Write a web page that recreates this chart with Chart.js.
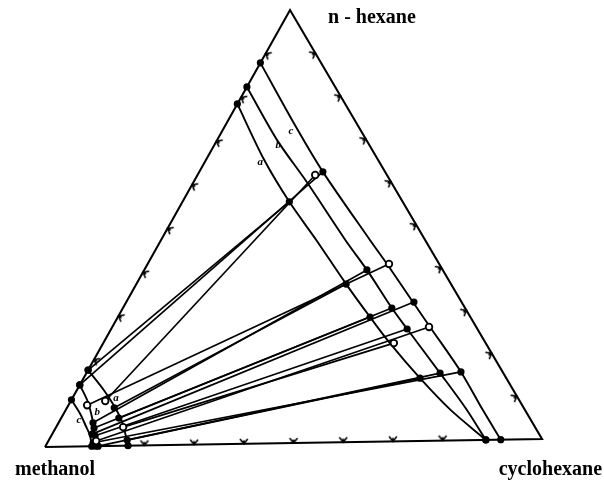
<!DOCTYPE html>
<html>
<head>
<meta charset="utf-8">
<script src="https://cdn.jsdelivr.net/npm/chart.js@4.4.1/dist/chart.umd.min.js"></script>
<style>
  html, body { margin: 0; padding: 0; background: #fff; }
  #wrap { width: 604px; height: 483px; position: relative; }
</style>
</head>
<body>
<div id="wrap"><canvas id="chart"></canvas></div>
<script>
// mole fractions: cyclohexane / n-hexane, methanol = the rest
// hydrocarbon-rich branch of the binodal, curves a, b, c
const aRightCyc = [0, 0.118, 0.217, 0.315, 0.426, 0.512, 0.582, 0.683, 0.782, 0.887];
const aRightHex = [0.785, 0.655, 0.557, 0.468, 0.365, 0.288, 0.227, 0.145, 0.070, 0];
const bRightCyc = [0, 0.122, 0.230, 0.374, 0.452, 0.546, 0.601, 0.718, 0.810, 0.887];
const bRightHex = [0.824, 0.700, 0.602, 0.467, 0.397, 0.308, 0.259, 0.156, 0.074, 0];
const cRightCyc = [0, 0.145, 0.251, 0.424, 0.486, 0.582, 0.645, 0.759, 0.847, 0.917];
const cRightHex = [0.879, 0.730, 0.625, 0.466, 0.410, 0.321, 0.263, 0.158, 0.069, 0];

// methanol-rich branch, curves a, b, c
const aLeftCyc = [0, 0.055, 0.092, 0.124, 0.145, 0.167];
const aLeftHex = [0.176, 0.129, 0.094, 0.060, 0.032, 0];
const bLeftCyc = [0, 0.032, 0.056, 0.078, 0.102];
const bLeftHex = [0.142, 0.107, 0.075, 0.042, 0];
const cLeftCyc = [0, 0.034, 0.059, 0.079, 0.094];
const cLeftHex = [0.108, 0.075, 0.047, 0.024, 0];

// tie lines: methanol-rich end / hydrocarbon-rich end, open = hollow markers
const tieLeftCyc  = [0, 0, 0.070, 0.096, 0.070, 0.038, 0.117, 0.078, 0.081, 0.136, 0.089, 0.097, 0.159, 0.107, 0.093];
const tieLeftHex  = [0.176, 0.142, 0.104, 0.088, 0.054, 0.095, 0.064, 0.042, 0.028, 0.043, 0.024, 0.012, 0.013, 0, 0.008];
const tieRightCyc = [0.217, 0.251, 0.239, 0.426, 0.452, 0.490, 0.512, 0.546, 0.584, 0.590, 0.601, 0.643, 0.683, 0.718, 0.759];
const tieRightHex = [0.557, 0.625, 0.618, 0.365, 0.397, 0.410, 0.288, 0.308, 0.321, 0.227, 0.259, 0.263, 0.145, 0.156, 0.158];
const tieOpen     = [false, false, true, false, false, true, false, false, false, true, false, true, false, false, false];

// edge ticks, every 0.1
const rightTicks = [0.1, 0.2, 0.3, 0.4, 0.5, 0.6, 0.7, 0.8, 0.9];
const baseTicks = [0.2, 0.3, 0.4, 0.5, 0.6, 0.7, 0.8];
const leftTicks = [0.2, 0.3, 0.4, 0.5, 0.6, 0.7, 0.8, 0.9];

// corners of the (slightly tilted, scanned) triangle, methanol at origin
const C_VTX = [1, 0.0161];
const H_VTX = [0.493, 0.8793];

function toXY(c, h) {
  return { x: c * C_VTX[0] + h * H_VTX[0], y: c * C_VTX[1] + h * H_VTX[1] };
}
function pts(cyc, hex) {
  return cyc.map((c, i) => toXY(c, hex[i]));
}

function makeTick() {
  const cv = document.createElement('canvas');
  cv.width = 14; cv.height = 14;
  const g = cv.getContext('2d');
  g.strokeStyle = '#000';
  g.lineWidth = 1.6;
  g.lineCap = 'round';
  g.beginPath();
  g.moveTo(3.5, 2.5); g.lineTo(7, 7); g.lineTo(10.5, 2.5);
  g.moveTo(7, 7); g.lineTo(7, 4);
  g.stroke();
  return cv;
}
const tickImg = makeTick();

const datasets = [];

// markers
const filled = [], hollow = [];
tieLeftCyc.forEach((c, i) => {
  const l = toXY(c, tieLeftHex[i]);
  const r = toXY(tieRightCyc[i], tieRightHex[i]);
  (tieOpen[i] ? hollow : filled).push(l, r);
});
// both ends of every binodal curve
[[aRightCyc, aRightHex], [bRightCyc, bRightHex], [cRightCyc, cRightHex],
 [aLeftCyc, aLeftHex], [bLeftCyc, bLeftHex], [cLeftCyc, cLeftHex]].forEach(cv => {
  const n = cv[0].length - 1;
  filled.push(toXY(cv[0][0], cv[1][0]), toXY(cv[0][n], cv[1][n]));
});

datasets.push({ data: hollow, pointRadius: 3.3, pointBackgroundColor: '#fff', pointBorderColor: '#000', pointBorderWidth: 1.8, showLine: false, order: 0 });
datasets.push({ data: filled, pointRadius: 3.6, pointBackgroundColor: '#000', pointBorderColor: '#000', pointBorderWidth: 0, showLine: false, order: 0 });

// ticks, pointing into the triangle
datasets.push({ data: baseTicks.map(t => toXY(t, 0)), pointStyle: tickImg, rotation: 0, showLine: false, order: 1 });
datasets.push({ data: leftTicks.map(t => toXY(0, t)), pointStyle: tickImg, rotation: 119, showLine: false, order: 1 });
datasets.push({ data: rightTicks.map(t => toXY(t, 1 - t)), pointStyle: tickImg, rotation: 240, showLine: false, order: 1 });

// binodal curves
const curves = [
  [aRightCyc, aRightHex], [bRightCyc, bRightHex], [cRightCyc, cRightHex],
  [aLeftCyc, aLeftHex], [bLeftCyc, bLeftHex], [cLeftCyc, cLeftHex]
];
curves.forEach(cv => {
  datasets.push({ data: pts(cv[0], cv[1]), showLine: true, tension: 0.3, borderColor: '#000', borderWidth: 1.9, pointRadius: 0, order: 2 });
});

// tie lines
tieLeftCyc.forEach((c, i) => {
  datasets.push({
    data: [toXY(c, tieLeftHex[i]), toXY(tieRightCyc[i], tieRightHex[i])],
    showLine: true, borderColor: '#000', borderWidth: 1.7, pointRadius: 0, order: 2
  });
});

// triangle
datasets.push({
  data: pts([0, 1, 0, 0], [0, 0, 1, 0]),
  showLine: true, borderColor: '#000', borderWidth: 2.1, pointRadius: 0, order: 3
});

const labelPlugin = {
  id: 'labels',
  afterDraw(chart) {
    const { ctx, scales: { x, y } } = chart;
    const px = p => [x.getPixelForValue(p.x), y.getPixelForValue(p.y)];
    ctx.save();
    ctx.fillStyle = '#000';
    ctx.font = 'bold 20px "Liberation Serif", serif';
    ctx.textBaseline = 'middle';
    let [tx, ty] = px(toXY(0, 1));
    ctx.textAlign = 'left';
    ctx.fillText('n - hexane', tx + 38, ty + 8);
    [tx, ty] = px(toXY(0, 0));
    ctx.fillText('methanol', tx - 30, ty + 23);
    [tx, ty] = px(toXY(1, 0));
    ctx.textAlign = 'right';
    ctx.fillText('cyclohexane', tx + 60, ty + 31);

    // curve letters
    ctx.font = 'italic bold 11px "Liberation Serif", serif';
    ctx.textAlign = 'center';
    const put = (s, c, h, dx, dy) => { const [a, b] = px(toXY(c, h)); ctx.fillText(s, a + dx, b + dy); };
    put('a', aRightCyc[1], aRightHex[1], -4, 2);
    put('b', bRightCyc[1], bRightHex[1], 1, 5);
    put('c', cRightCyc[1], cRightHex[1], -5, 4);
    put('a', aLeftCyc[1], aLeftHex[1], 12, 8);
    put('b', bLeftCyc[2], bLeftHex[2], 6, -2);
    put('c', cLeftCyc[2], cLeftHex[2], -7, -6);
    ctx.restore();
  }
};

new Chart(document.getElementById('chart'), {
  type: 'scatter',
  data: { datasets },
  options: {
    responsive: true,
    maintainAspectRatio: false,
    animation: false,
    events: [],
    layout: { padding: 0, autoPadding: false },
    plugins: { legend: { display: false }, tooltip: { enabled: false } },
    scales: {
      x: { type: 'linear', display: false, min: -0.0905, max: 1.1247 },
      y: { type: 'linear', display: false, min: -0.0724, max: 0.8994 }
    }
  },
  plugins: [labelPlugin]
});
</script>
</body>
</html>
